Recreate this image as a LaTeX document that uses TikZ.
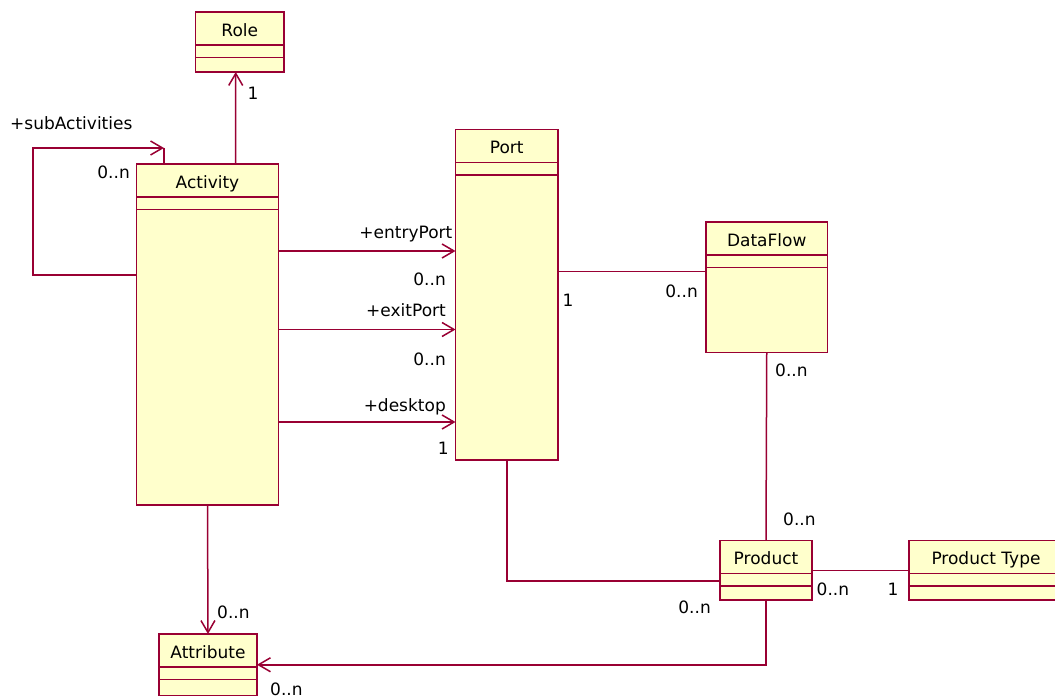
\documentclass[tikz,border=0pt]{standalone}
\usepackage{fontspec}
\setmainfont{DejaVu Sans}
\usetikzlibrary{arrows.meta, positioning, calc}

\definecolor{roseline}{RGB}{153,0,51}
\definecolor{rosefill}{RGB}{255,255,204}

\tikzset{
  classbox/.style={draw=roseline, fill=rosefill, line width=1.5pt, inner sep=0pt, outer sep=0pt, anchor=north west},
  classname/.style={font=\fontsize{17}{20}\selectfont, text height=12.5pt, text depth=0pt, inner sep=0pt},
  lbl/.style={font=\fontsize{17}{20}\selectfont, text height=12.5pt, text depth=0pt, inner sep=0pt},
  link/.style={draw=roseline, line width=1.5pt},
  assoc/.style={link, -{Straight Barb[length=12pt, width=14pt]}},
}

% title + the two compartment lines of a class box
\newcommand{\classparts}[2]{%
  \node[classname] (#1-name) at ([yshift=-18pt]#1.north) {#2};
  \draw[link] ([yshift=-33pt]#1.north west) -- ([yshift=-33pt]#1.north east)
              ([yshift=-45.5pt]#1.north west) -- ([yshift=-45.5pt]#1.north east);
}

\begin{document}
\begin{tikzpicture}[x=1pt, y=-1pt]
  \useasboundingbox (0,0) rectangle (1055,700);

  % classes
  \node[classbox, minimum width=88.5pt, minimum height=60pt] (role) at (195.5,12) {};
  \classparts{role}{Role}
  \node[classbox, minimum width=142pt, minimum height=341pt] (act) at (136.5,164) {};
  \classparts{act}{Activity}
  \node[classbox, minimum width=102.5pt, minimum height=330.5pt] (port) at (455.5,129.5) {};
  \classparts{port}{Port}
  \node[classbox, minimum width=121.5pt, minimum height=130.5pt] (flow) at (706,222) {};
  \classparts{flow}{DataFlow}
  \node[classbox, minimum width=92pt, minimum height=59.5pt] (prod) at (720,540.5) {};
  \classparts{prod}{Product}
  \node[classbox, minimum width=154pt, minimum height=59.5pt] (ptype) at (909,540.5) {};
  \classparts{ptype}{Product Type}
  \node[classbox, minimum width=98pt, minimum height=61.5pt] (attr) at (159,634) {};
  \classparts{attr}{Attribute}

  % associations
  \draw[assoc] ([xshift=28pt]act.north) -- ([xshift=-4pt]role.south);
  \coordinate (loop) at ([xshift=-43.5pt, yshift=16pt]act.north);
  \draw[assoc] ([yshift=59.5pt]act.west) -- ++(-103.5,0) |- (loop);
  \draw[link] (loop) -- ([xshift=-43.5pt]act.north);
  \draw[assoc] (act.east |- 0,251) -- (port.west |- 0,251);
  \draw[assoc] (act.east |- 0,329.5) -- (port.west |- 0,329.5);
  \draw[assoc] (act.east |- 0,422) -- (port.west |- 0,422);
  \draw[link] (port.east |- 0,271.5) -- (flow.west |- 0,271.5);
  \draw[link] (flow.south) -- (prod.north);
  \draw[link] (prod.east) -- (ptype.west |- prod.east);
  \draw[link] (port.south) |- ([yshift=-10.5pt]prod.west);
  \draw[assoc] (prod.south) |- (attr.east);
  \draw[assoc] (act.south) -- (attr.north);

  % roles and multiplicities
  \node[lbl] (l-role) at (253,93) {1};
  \node[lbl, anchor=west] (l-sub) at (10,123) {+subActivities};
  \node[lbl, anchor=east] (l-subm) at (130,172) {0..n};
  \node[lbl, anchor=east] (l-entry) at (452.5,232) {+entryPort};
  \node[lbl, anchor=east] (l-entrym) at (446,279) {0..n};
  \node[lbl, anchor=east] (l-exit) at (446,310) {+exitPort};
  \node[lbl, anchor=east] (l-exitm) at (446,359) {0..n};
  \node[lbl, anchor=east] (l-desk) at (446,405) {+desktop};
  \node[lbl, anchor=east] (l-deskm) at (449,448) {1};
  \node[lbl, anchor=west] (l-pf1) at (562.5,300) {1};
  \node[lbl, anchor=east] (l-pf2) at (698,291) {0..n};
  \node[lbl, anchor=west] (l-fp1) at (775,370) {0..n};
  \node[lbl, anchor=west] (l-fp2) at (783,519) {0..n};
  \node[lbl, anchor=west] (l-pt1) at (816.5,589) {0..n};
  \node[lbl] (l-pt2) at (893,589) {1};
  \node[lbl, anchor=east] (l-pp) at (711,607) {0..n};
  \node[lbl, anchor=west] (l-aa) at (217,612) {0..n};
  \node[lbl, anchor=west] (l-pa) at (270,689) {0..n};
\end{tikzpicture}
\end{document}
